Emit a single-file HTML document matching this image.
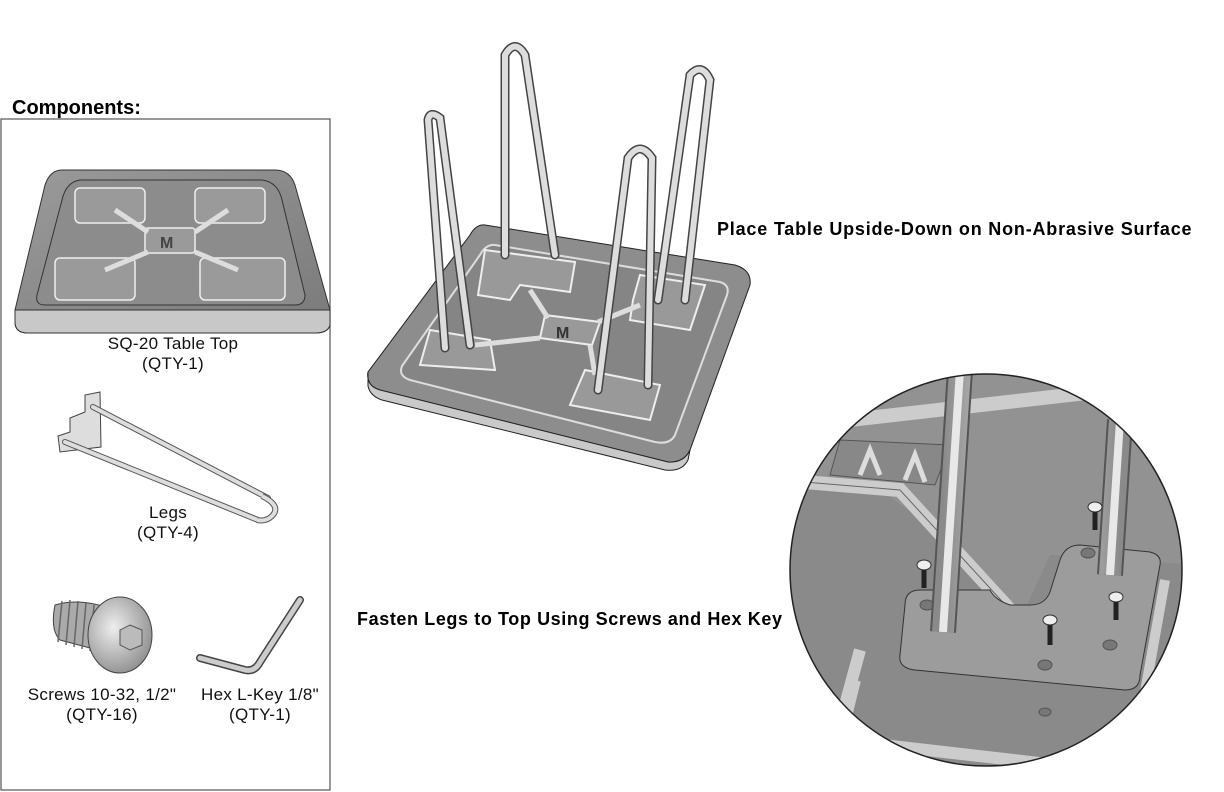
<!DOCTYPE html>
<html><head><meta charset="utf-8"><style>
html,body{margin:0;padding:0;background:#fff;}
body{width:1224px;height:792px;position:relative;overflow:hidden;font-family:"Liberation Sans",Arial,sans-serif;}
.t{position:absolute;font-size:17px;letter-spacing:0.3px;color:#111;text-align:center;line-height:20px;}
.b{position:absolute;font-weight:bold;font-size:18px;letter-spacing:0.8px;color:#000;white-space:nowrap;line-height:22px;}
</style></head><body>
<svg width="1224" height="792" style="position:absolute;left:0;top:0">
<defs>
<linearGradient id="g1" x1="0" y1="0" x2="1" y2="1"><stop offset="0" stop-color="#9a9a9a"/><stop offset="1" stop-color="#7a7a7a"/></linearGradient>
<linearGradient id="rod" x1="0" y1="0" x2="1" y2="0"><stop offset="0" stop-color="#8a8a8a"/><stop offset=".5" stop-color="#e6e6e6"/><stop offset="1" stop-color="#8a8a8a"/></linearGradient>
<radialGradient id="sc" cx=".4" cy=".4" r=".7"><stop offset="0" stop-color="#eee"/><stop offset="1" stop-color="#888"/></radialGradient>
<clipPath id="cc"><circle cx="986" cy="570" r="196"/></clipPath>
</defs>
<rect x="1" y="119" width="329" height="671" fill="none" stroke="#555" stroke-width="1.2"/>
<path d="M62,170 L275,170 Q290,170 295,185 L330,310 L330,325 Q328,333 315,333 L28,333 Q15,333 15,322 L15,310 L45,185 Q50,170 62,170Z" fill="url(#g1)" stroke="#333"/>
<path d="M15,310 L330,310 L330,325 Q328,333 315,333 L28,333 Q15,333 15,322Z" fill="#c8c8c8" stroke="#333"/>
<path d="M80,180 L262,180 Q278,182 282,200 L305,295 Q305,305 295,305 L45,305 Q35,305 37,295 L62,200 Q66,182 80,180Z" fill="#8c8c8c" stroke="#333"/>
<g fill="#9a9a9a" stroke="#eee" stroke-width="1.5">
<rect x="75" y="188" width="70" height="35" rx="5"/><rect x="195" y="188" width="70" height="35" rx="5"/>
<rect x="55" y="258" width="80" height="42" rx="5"/><rect x="200" y="258" width="85" height="42" rx="5"/>
<rect x="145" y="228" width="50" height="25" rx="3"/>
</g>
<path d="M115,210 L148,232 M228,210 L195,232 M105,270 L148,252 M238,270 L195,252" stroke="#ddd" stroke-width="5"/>
<text x="160" y="248" font-size="16" font-weight="bold" fill="#444" font-family="Liberation Sans">M</text>
<path d="M70,418 L85,412 L85,395 L100,392 L101,447 L60,452 L58,436 L70,432Z" fill="#ddd" stroke="#444"/>
<path d="M93,407 L268,498 M65,442 L258,520" stroke="#555" stroke-width="6" stroke-linecap="round"/>
<path d="M93,407 L268,498 M65,442 L258,520" stroke="#ddd" stroke-width="4" stroke-linecap="round"/>
<path d="M262,496 Q282,506 272,516 Q266,522 257,520" fill="none" stroke="#555" stroke-width="6"/>
<path d="M262,496 Q282,506 272,516 Q266,522 257,520" fill="none" stroke="#ddd" stroke-width="4"/>
<path d="M55,605 Q50,630 60,640 L105,652 L115,610 Q80,597 55,605Z" fill="#aaa" stroke="#444"/>
<g stroke="#666" stroke-width="1.5"><path d="M62,601 L58,642 M70,600 L66,645 M78,601 L74,647 M86,603 L82,649 M94,605 L90,651"/></g>
<ellipse cx="120" cy="635" rx="32" ry="38" fill="url(#sc)" stroke="#444"/>
<polygon points="130,625 142,630 142,645 130,650 120,645 120,630" fill="#bbb" stroke="#555"/>
<path d="M200,658 L245,670 Q255,672 260,662 L300,600" fill="none" stroke="#444" stroke-width="8" stroke-linecap="round"/>
<path d="M200,658 L245,670 Q255,672 260,662 L300,600" fill="none" stroke="#ccc" stroke-width="5" stroke-linecap="round"/>
<path d="M485,225 L735,265 Q752,270 750,285 L690,450 Q684,463 668,462 L380,390 Q366,386 368,372 L470,235 Q476,224 485,225Z" fill="#8d8d8d" stroke="#222"/>
<path d="M368,372 L368,386 Q370,396 382,400 L665,470 Q682,472 688,460 L690,450 Q684,463 668,462 L380,390 Q366,386 368,372Z" fill="#c9c9c9" stroke="#222"/>
<path d="M495,245 L720,282 Q730,285 727,295 L675,435 Q670,445 655,442 L410,380 Q398,376 402,366 L480,255 Q486,244 495,245Z" fill="#858585" stroke="#ddd" stroke-width="2"/>
<g fill="#999" stroke="#eee" stroke-width="2">
<path d="M485,250 L575,262 L570,292 L520,285 L510,300 L478,295Z"/>
<path d="M640,275 L705,285 L690,330 L630,320 L633,300Z"/>
<path d="M430,330 L490,340 L495,370 L420,365Z"/>
<path d="M585,370 L660,385 L650,420 L570,405Z"/>
<path d="M545,315 L600,322 L592,345 L540,338Z"/>
</g>
<path d="M530,290 L548,318 M640,305 L598,322 M475,345 L540,338 M595,375 L590,345" stroke="#ddd" stroke-width="5"/>
<text x="556" y="338" font-size="16" font-weight="bold" fill="#333">M</text>
<g fill="none" stroke="#444" stroke-width="9" stroke-linecap="round">
<path d="M445,348 L428,120 Q430,110 440,118 L470,345"/>
<path d="M505,255 L505,55 Q515,38 525,55 L555,255"/>
<path d="M658,300 L690,75 Q702,62 710,80 L685,300"/>
<path d="M598,390 L628,158 Q640,140 652,158 L648,385"/>
</g>
<g fill="none" stroke="#ddd" stroke-width="6" stroke-linecap="round">
<path d="M445,348 L428,120 Q430,110 440,118 L470,345"/>
<path d="M505,255 L505,55 Q515,38 525,55 L555,255"/>
<path d="M658,300 L690,75 Q702,62 710,80 L685,300"/>
<path d="M598,390 L628,158 Q640,140 652,158 L648,385"/>
</g>
<g clip-path="url(#cc)">
<rect x="780" y="370" width="420" height="410" fill="#929292"/>
<path d="M780,480 L880,490 L950,540 L1020,620 L1050,555 L1200,565 L1200,780 L780,780Z" fill="#8a8a8a"/>
<path d="M780,480 L900,490 L1010,610" fill="none" stroke="#ccc" stroke-width="14"/>
<path d="M780,480 L900,490 L1010,610" fill="none" stroke="#666" stroke-width="1"/>
<path d="M850,420 L1200,380" stroke="#ccc" stroke-width="14"/>
<path d="M840,440 L950,445 L935,485 L830,475Z" fill="#888" stroke="#555"/>
<path d="M860,475 L870,450 L880,475 M905,480 L915,455 L925,482" fill="none" stroke="#ddd" stroke-width="5"/>
<path d="M920,590 Q905,590 905,605 L900,655 Q898,668 915,670 L1125,690 Q1140,690 1140,675 L1160,565 Q1162,555 1150,552 L1080,545 Q1065,545 1060,560 L1050,592 Q1045,605 1030,605 L1010,605 Q995,600 990,590Z" fill="#9c9c9c" stroke="#333"/>
<path d="M855,680 L840,740 L1100,770 L1110,730" fill="none" stroke="#ccc" stroke-width="12"/>
<path d="M860,650 L830,760" stroke="#ccc" stroke-width="12"/>
<path d="M1165,580 L1140,720" stroke="#ccc" stroke-width="10"/>
<g fill="#777" stroke="#555"><ellipse cx="927" cy="605" rx="7" ry="5"/><ellipse cx="1045" cy="665" rx="7" ry="5"/><ellipse cx="1110" cy="645" rx="7" ry="5"/><ellipse cx="1088" cy="553" rx="7" ry="5"/><ellipse cx="1045" cy="712" rx="6" ry="4"/></g>
<path d="M960,370 L943,632 M1120,420 L1110,575" fill="none" stroke="#555" stroke-width="26"/>
<path d="M960,370 L943,632 M1120,420 L1110,575" fill="none" stroke="url(#rod)" stroke-width="22"/>
<path d="M960,370 L943,632 M1120,420 L1110,575" fill="none" stroke="#e8e8e8" stroke-width="8"/>
<g><g fill="#eee" stroke="#333"><ellipse cx="924" cy="565" rx="7" ry="5"/><ellipse cx="1095" cy="507" rx="7" ry="5"/><ellipse cx="1116" cy="597" rx="7" ry="5"/><ellipse cx="1050" cy="620" rx="7" ry="5"/></g>
<g stroke="#222" stroke-width="5"><path d="M924,570 L924,588 M1095,512 L1095,530 M1116,602 L1116,620 M1050,625 L1050,645"/></g></g>
</g>
<circle cx="986" cy="570" r="196" fill="none" stroke="#222" stroke-width="1.5"/>
</svg>
<div class="b" style="left:12px;top:97px;font-size:20px;letter-spacing:0">Components:</div>
<div class="t" style="left:63px;top:334px;width:220px">SQ-20 Table Top<br>(QTY-1)</div>
<div class="t" style="left:58px;top:503px;width:220px">Legs<br>(QTY-4)</div>
<div class="t" style="left:-8px;top:685px;width:220px">Screws 10-32, 1/2"<br>(QTY-16)</div>
<div class="t" style="left:150px;top:685px;width:220px">Hex L-Key 1/8"<br>(QTY-1)</div>
<div class="b" style="left:717px;top:218px">Place Table Upside-Down on Non-Abrasive Surface</div>
<div class="b" style="left:357px;top:608px;letter-spacing:0.6px">Fasten Legs to Top Using Screws and Hex Key</div>
</body></html>
